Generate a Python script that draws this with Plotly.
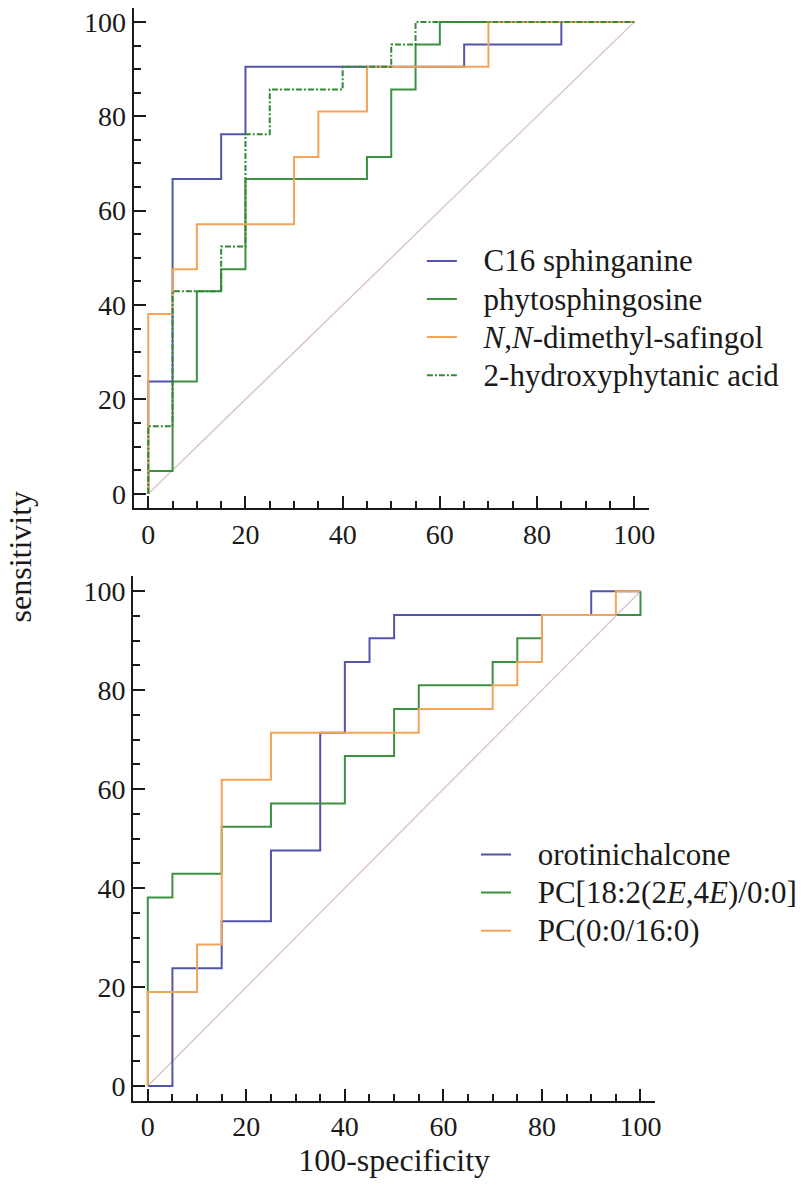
import plotly.graph_objects as go

# ---------------- data (percent) ----------------
# top panel
c16_x = [0, 0, 5, 5, 15, 15, 20, 20, 65, 65, 85, 85, 100]
c16_y = [0, 23.8, 23.8, 66.7, 66.7, 76.2, 76.2, 90.5, 90.5, 95.2, 95.2, 100, 100]

phyto_x = [0, 0, 5, 5, 10, 10, 15, 15, 20, 20, 45, 45, 50, 50, 55, 55, 60, 60, 100]
phyto_y = [0, 4.8, 4.8, 23.8, 23.8, 42.9, 42.9, 47.6, 47.6, 66.7, 66.7, 71.4, 71.4, 85.7, 85.7, 95.2, 95.2, 100, 100]

nn_x = [0, 0, 5, 5, 10, 10, 30, 30, 35, 35, 45, 45, 70, 70, 100]
nn_y = [0, 38.1, 38.1, 47.6, 47.6, 57.1, 57.1, 71.4, 71.4, 81.0, 81.0, 90.5, 90.5, 100, 100]

hpa_x = [0, 0, 5, 5, 15, 15, 20, 20, 25, 25, 40, 40, 50, 50, 55, 55, 100]
hpa_y = [0, 14.3, 14.3, 42.9, 42.9, 52.4, 52.4, 76.2, 76.2, 85.7, 85.7, 90.5, 90.5, 95.2, 95.2, 100, 100]

# bottom panel
oro_x = [0, 5, 5, 15, 15, 25, 25, 35, 35, 40, 40, 45, 45, 50, 50, 90, 90, 100]
oro_y = [0, 0, 23.8, 23.8, 33.3, 33.3, 47.6, 47.6, 71.4, 71.4, 85.7, 85.7, 90.5, 90.5, 95.2, 95.2, 100, 100]

pc18_x = [0, 0, 5, 5, 15, 15, 25, 25, 40, 40, 50, 50, 55, 55, 70, 70, 75, 75, 80, 80, 100, 100]
pc18_y = [0, 38.1, 38.1, 42.9, 42.9, 52.4, 52.4, 57.1, 57.1, 66.7, 66.7, 76.2, 76.2, 81.0, 81.0, 85.7, 85.7, 90.5, 90.5, 95.2, 95.2, 100]

pc16_x = [0, 0, 10, 10, 15, 15, 25, 25, 55, 55, 70, 70, 75, 75, 80, 80, 95, 95, 100]
pc16_y = [0, 19.0, 19.0, 28.6, 28.6, 61.9, 61.9, 71.4, 71.4, 76.2, 76.2, 81.0, 81.0, 85.7, 85.7, 95.2, 95.2, 100, 100]

diag = [0, 100]
tick_vals = [0, 20, 40, 60, 80, 100]

top_names = ["C16 sphinganine", "phytosphingosine",
             "<i>N</i>,<i>N</i>-dimethyl-safingol", "2-hydroxyphytanic acid"]
bot_names = ["orotinichalcone", "PC[18:2(2<i>E</i>,4<i>E</i>)/0:0]", "PC(0:0/16:0)"]

BLUE = "#5254ab"
GREEN = "#3c9140"
ORANGE = "#f3a45a"
DGREEN = "#2f8a33"
DIAG = "#dcc6cf"
FONT = "Liberation Serif"
INK = "#1a1a1a"
LEG_TXT = 31
PAD = "\u00a0\u00a0\u2009"


def big(s):
    return '<span style="font-size:%dpx">%s%s</span>' % (LEG_TXT, PAD, s)


fig = go.Figure()

# diagonals
fig.add_trace(go.Scatter(x=diag, y=diag, mode="lines", line=dict(color=DIAG, width=1.5),
                         showlegend=False, xaxis="x", yaxis="y", hoverinfo="skip"))
fig.add_trace(go.Scatter(x=diag, y=diag, mode="lines", line=dict(color=DIAG, width=1.5),
                         showlegend=False, xaxis="x2", yaxis="y2", hoverinfo="skip"))

top_series = [(c16_x, c16_y, BLUE, "solid"), (phyto_x, phyto_y, GREEN, "solid"),
              (nn_x, nn_y, ORANGE, "solid"), (hpa_x, hpa_y, DGREEN, "6px,2px,2px,2px")]
for (xs, ys, col, dash), nm in zip(top_series, top_names):
    fig.add_trace(go.Scatter(x=xs, y=ys, mode="lines", name=big(nm),
                             line=dict(color=col, width=2, dash=dash),
                             xaxis="x", yaxis="y", legend="legend"))

bot_series = [(oro_x, oro_y, BLUE), (pc18_x, pc18_y, GREEN), (pc16_x, pc16_y, ORANGE)]
for (xs, ys, col), nm in zip(bot_series, bot_names):
    fig.add_trace(go.Scatter(x=xs, y=ys, mode="lines", name=big(nm),
                             line=dict(color=col, width=2),
                             xaxis="x2", yaxis="y2", legend="legend2"))

W, H = 802, 1187


def ax(domain, **kw):
    d = dict(domain=domain, range=[-3, 103], tickvals=tick_vals, showgrid=False,
             zeroline=False, showline=True, linecolor=INK, linewidth=2,
             ticks="inside", ticklen=12, tickwidth=2, tickcolor=INK,
             minor=dict(dtick=5, tick0=0, ticks="inside", ticklen=7, tickwidth=1.5, tickcolor=INK),
             tickfont=dict(family=FONT, size=28, color=INK), mirror=False)
    d.update(kw)
    return d


fig.update_layout(
    width=W, height=H, margin=dict(l=0, r=0, t=0, b=0),
    plot_bgcolor="white", paper_bgcolor="white",
    xaxis=ax([134.7 / W, 653.7 / W], anchor="y"),
    yaxis=ax([1 - 508.2 / H, 1 - 6.8 / H], anchor="x"),
    xaxis2=ax([134 / W, 660.2 / W], anchor="y2",
              title=dict(text="100-specificity", font=dict(family=FONT, size=32, color=INK), standoff=4)),
    yaxis2=ax([1 - 1102.6 / H, 1 - 576.8 / H], anchor="x2"),
    legend=dict(x=0.530, y=0.8008, xanchor="left", yanchor="top",
                font=dict(family=FONT, size=27, color=INK), bgcolor="rgba(0,0,0,0)",
                tracegroupgap=0),
    legend2=dict(x=0.598, y=0.2995, xanchor="left", yanchor="top",
                 font=dict(family=FONT, size=27, color=INK), bgcolor="rgba(0,0,0,0)",
                 tracegroupgap=0),
    annotations=[dict(text="sensitivity", x=20 / W, y=1 - 557 / H, xref="paper", yref="paper",
                      xanchor="center", yanchor="middle",
                      showarrow=False, textangle=-90,
                      font=dict(family=FONT, size=32, color=INK))],
)

fig.write_html("out.html")
